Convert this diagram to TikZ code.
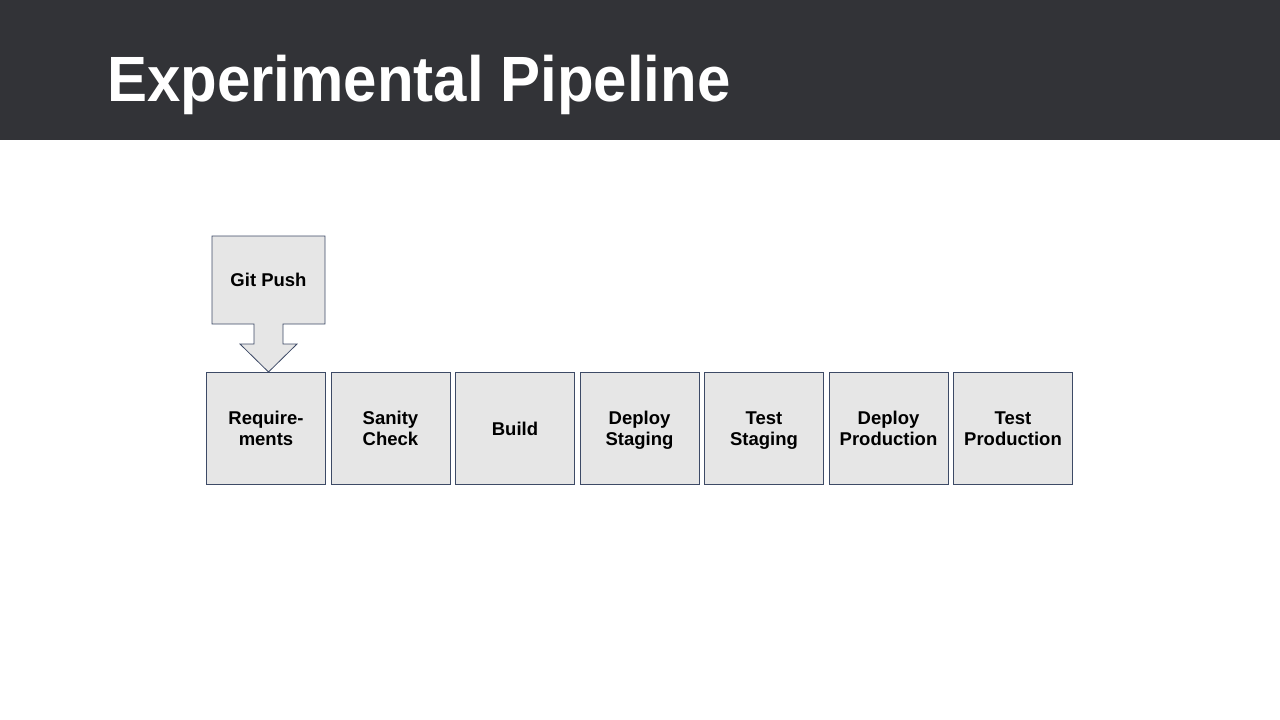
\documentclass[tikz,border=0pt]{standalone}
\usepackage{fontspec}
\setmainfont{Liberation Sans}
\newfontfamily\titlefont[FakeStretch=0.937]{Liberation Sans}
\usetikzlibrary{positioning}
\definecolor{headbg}{HTML}{323337}
\definecolor{boxfill}{HTML}{E6E6E6}
\definecolor{boxline}{HTML}{3D4A66}
\newcommand\lstrut{\rule[-3pt]{0pt}{19pt}}
\newcommand\oneline[1]{\lstrut#1}
\newcommand\twolines[2]{\lstrut#1\\\lstrut#2}
\tikzset{stage/.style={rectangle,fill=boxfill,draw=boxline,line width=0.8pt,minimum width=119.2pt,minimum height=112.2pt,inner sep=0pt,align=center,font=\fontsize{18.5}{21}\selectfont\bfseries},
	callout/.style={fill=boxfill,draw=boxline,line width=0.8pt,line join=miter}}

\begin{document}
\begin{tikzpicture}[x=1pt,y=-1pt]
	\useasboundingbox (0,0) rectangle (1280,720);
	\fill [headbg] (0,0) rectangle (1280,140);
	\node [anchor=base west,inner sep=0pt,text=white,font=\titlefont\fontsize{64}{68}\selectfont\bfseries] (title) at (107,101) {Experimental Pipeline};
	% stages
	\node [stage] (req) at (266,428.5) {\twolines{Require-}{ments}};
	\node [stage,right=4.5pt of req] (sanity) {\twolines{Sanity}{Check}};
	\node [stage,right=4.5pt of sanity] (build) {\oneline{Build}};
	\node [stage,right=4.5pt of build] (dstage) {\twolines{Deploy}{Staging}};
	\node [stage,right=4.5pt of dstage] (tstage) {\twolines{Test}{Staging}};
	\node [stage,right=4.5pt of tstage] (dprod) {\twolines{Deploy}{Production}};
	\node [stage,right=4.5pt of dprod] (tprod) {\twolines{Test}{Production}};
	% git push callout
	\coordinate (push) at (268.5,280);
	\draw [callout] ([shift={(-56.5,-44)}]push) -- ([shift={(56.5,-44)}]push) -- ([shift={(56.5,44)}]push)
		-- ([shift={(14.5,44)}]push) -- ++(0,20) -- ++(14,0)
		-- (push |- req.north)
		-- ++(-28.5,-28) -- ++(14,0) -- ([shift={(-14.5,44)}]push)
		-- ([shift={(-56.5,44)}]push) -- cycle;
	\node [stage,draw=none,fill=none] (pushlabel) at (push) {\oneline{Git Push}};
\end{tikzpicture}
\end{document}
